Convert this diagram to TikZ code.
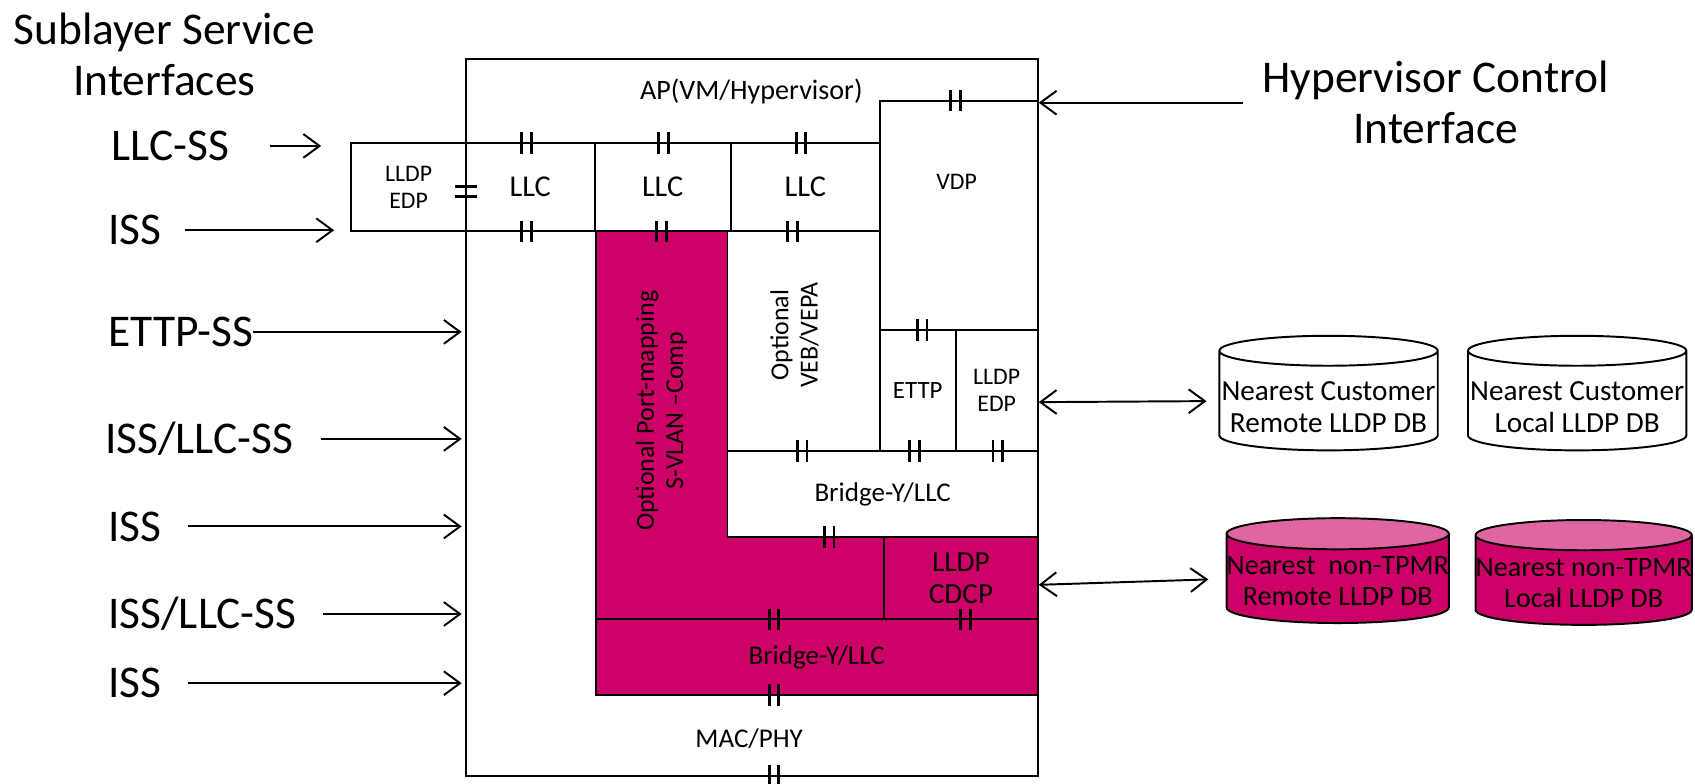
\documentclass[tikz,border=0pt]{standalone}
\usepackage{fontspec}
\setmainfont{Carlito}
\usetikzlibrary{positioning, arrows.meta, calc, shapes.geometric}

\definecolor{hpmag}{HTML}{CC0066}
\definecolor{hppink}{HTML}{E066A3}

\begin{document}
\begin{tikzpicture}[
    x=1pt, y=-1pt,
    blk/.style={draw, line width=1.8pt, inner sep=0pt, align=center,
        font=\fontsize{25}{28}\selectfont},
    smallblk/.style={blk, font=\fontsize{22}{25}\selectfont},
    magblk/.style={blk, fill=hpmag},
    txt/.style={font=\fontsize{25}{28}\selectfont, inner sep=0pt, align=center},
    sidelbl/.style={font=\fontsize{42}{46}\selectfont, inner sep=0pt,
        text height=27pt, text depth=0pt, anchor=west},
    hdr/.style={font=\fontsize{42}{47}\selectfont, align=center, inner sep=0pt},
    inarrow/.style={-{Straight Barb[length=15pt, width=22pt]}, line width=1.8pt},
    dbarrow/.style={{Straight Barb[length=15pt, width=22pt]}-{Straight Barb[length=15pt, width=22pt]},
        line width=1.8pt},
    db/.style={cylinder, shape border rotate=90, draw, line width=1.8pt,
        aspect=0.14, minimum width=202pt, minimum height=106pt, inner sep=0pt,
        align=center, font=\fontsize{27}{30}\selectfont, text height=59pt},
    magdb/.style={db, cylinder uses custom fill, cylinder body fill=hpmag,
        cylinder end fill=hppink, minimum width=200pt, minimum height=97pt,
        font=\fontsize{26}{29}\selectfont, text height=50pt},
    ifm/.pic={\draw[line width=2.6pt] (-4.5,-10) -- (-4.5,10) (4.5,-10) -- (4.5,10);},
]
\useasboundingbox (0,0) rectangle (1568,725);

% ====== HEADERS ======
\node[hdr] (sublbl) at (152,50) {Sublayer Service\\Interfaces};
\node[hdr] (hci) at (1328,95) {Hypervisor Control\\Interface};

% ====== STATION ======
\node[draw, line width=1.8pt, minimum width=529pt, minimum height=663pt, inner sep=0pt, fill=white]
    (outer) at (695.5,386.5) {};
\node[txt, font=\fontsize{26}{29}\selectfont] (ap) at (695,85) {AP(VM/Hypervisor)};
\node[txt] (mac) at (693,683) {MAC/PHY};

% magenta S-VLAN component
\filldraw[fill=hpmag, line width=1.8pt]
    (551,214) -- (673,214) -- (673,497) -- (818,497) -- (818,573) -- (551,573) -- cycle;
\node[txt, rotate=90, font=\fontsize{24}{27}\selectfont] (pmtxt) at (612,380)
    {Optional Port-mapping\\S-VLAN –Comp};

\node[smallblk, minimum width=106pt, minimum height=82pt] (lledp) at (378,173) {LLDP\\EDP};
\node[blk, font=\fontsize{28}{30}\selectfont, minimum width=119pt, minimum height=82pt] (llc1) at (490.5,173) {LLC};
\node[blk, font=\fontsize{28}{30}\selectfont, minimum width=126pt, minimum height=82pt] (llc2) at (613,173) {LLC};
\node[blk, font=\fontsize{28}{30}\selectfont, minimum width=138pt, minimum height=82pt] (llc3) at (745,173) {LLC};
\node[blk, minimum width=146pt, minimum height=212pt] (vdp) at (887,199) {};
\node[txt, font=\fontsize{22}{25}\selectfont] (vdptxt) at (885,168) {VDP};

\node[blk, minimum width=141pt, minimum height=203pt] (veb) at (743.5,315.5) {};
\node[txt, rotate=90, font=\fontsize{24}{27}\selectfont] (vebtxt) at (735,310) {Optional\\VEB/VEPA};
\node[smallblk, font=\fontsize{23}{26}\selectfont, minimum width=70pt, minimum height=112pt] (ettp) at (849,361) {ETTP};
\node[smallblk, minimum width=76pt, minimum height=112pt] (redp) at (922,361) {LLDP\\EDP};
\node[blk, minimum width=287pt, minimum height=80pt] (brw) at (816.5,457) {Bridge-Y/LLC};
\node[magblk, font=\fontsize{27}{30}\selectfont, minimum width=142pt, minimum height=76pt] (cdcp) at (889,535) {LLDP\\CDCP};
\node[magblk, minimum width=409pt, minimum height=70pt] (brm) at (755.5,608) {Bridge-Y/LLC};

% interface marks
\foreach \mx/\my in {884/93, 487/132, 614/132, 741/132, 487/214, 612/214, 733/214,
    853/305, 742/417, 846/417, 923/417, 767/497, 716/573, 893/573, 716/643, 716/718}
    \pic at (\mx,\my) {ifm};
\pic[rotate=90] at (431,177) {ifm};

% ====== SERVICE INTERFACES ======
\node[sidelbl] (lllcss) at (103,135) {LLC-SS};
\node[sidelbl] (liss1) at (100,213) {ISS};
\node[sidelbl] (lettp) at (100,307) {ETTP-SS};
\node[sidelbl] (lissllc1) at (97,406) {ISS/LLC-SS};
\node[sidelbl] (liss2) at (100,487) {ISS};
\node[sidelbl] (lissllc2) at (100,568) {ISS/LLC-SS};
\node[sidelbl] (liss3) at (100,632) {ISS};

\draw[inarrow, shorten <=38pt, shorten >=27pt] (lllcss.east) -- (lllcss.east -| lledp.west);
\draw[inarrow, shorten <=22pt, shorten >=15pt] (liss1.east) -- (liss1.east -| lledp.west);
\draw[inarrow, shorten >=3pt] (lettp.east) -- (lettp.east -| outer.west);
\draw[inarrow, shorten <=25pt, shorten >=3pt] (lissllc1.east) -- (lissllc1.east -| outer.west);
\draw[inarrow, shorten <=24pt, shorten >=3pt] (liss2.east) -- (liss2.east -| outer.west);
\draw[inarrow, shorten <=24pt, shorten >=3pt] (lissllc2.east) -- (lissllc2.east -| outer.west);
\draw[inarrow, shorten <=24pt, shorten >=3pt] (liss3.east) -- (liss3.east -| outer.west);

\draw[inarrow, shorten <=18pt] (hci.west) -- (hci.west -| vdp.east);

% ====== LLDP DATABASES ======
\node[db] (ncr) at (1229,371) {Nearest Customer\\Remote LLDP DB};
\node[db] (ncl) at (1459,371) {Nearest Customer\\Local LLDP DB};
\node[magdb] (ntr) at (1237.5,535.5) {Nearest~~non-TPMR\\Remote LLDP DB};
\node[magdb] (ntl) at (1465,537) {Nearest non-TPMR\\Local LLDP DB};

\draw[dbarrow, shorten >=11pt] ([yshift=-11pt]redp.east) -- (ncr.west);
\draw[dbarrow, shorten >=16pt] ([yshift=-6pt]cdcp.east) -- (ntr.west);

\end{tikzpicture}
\end{document}
